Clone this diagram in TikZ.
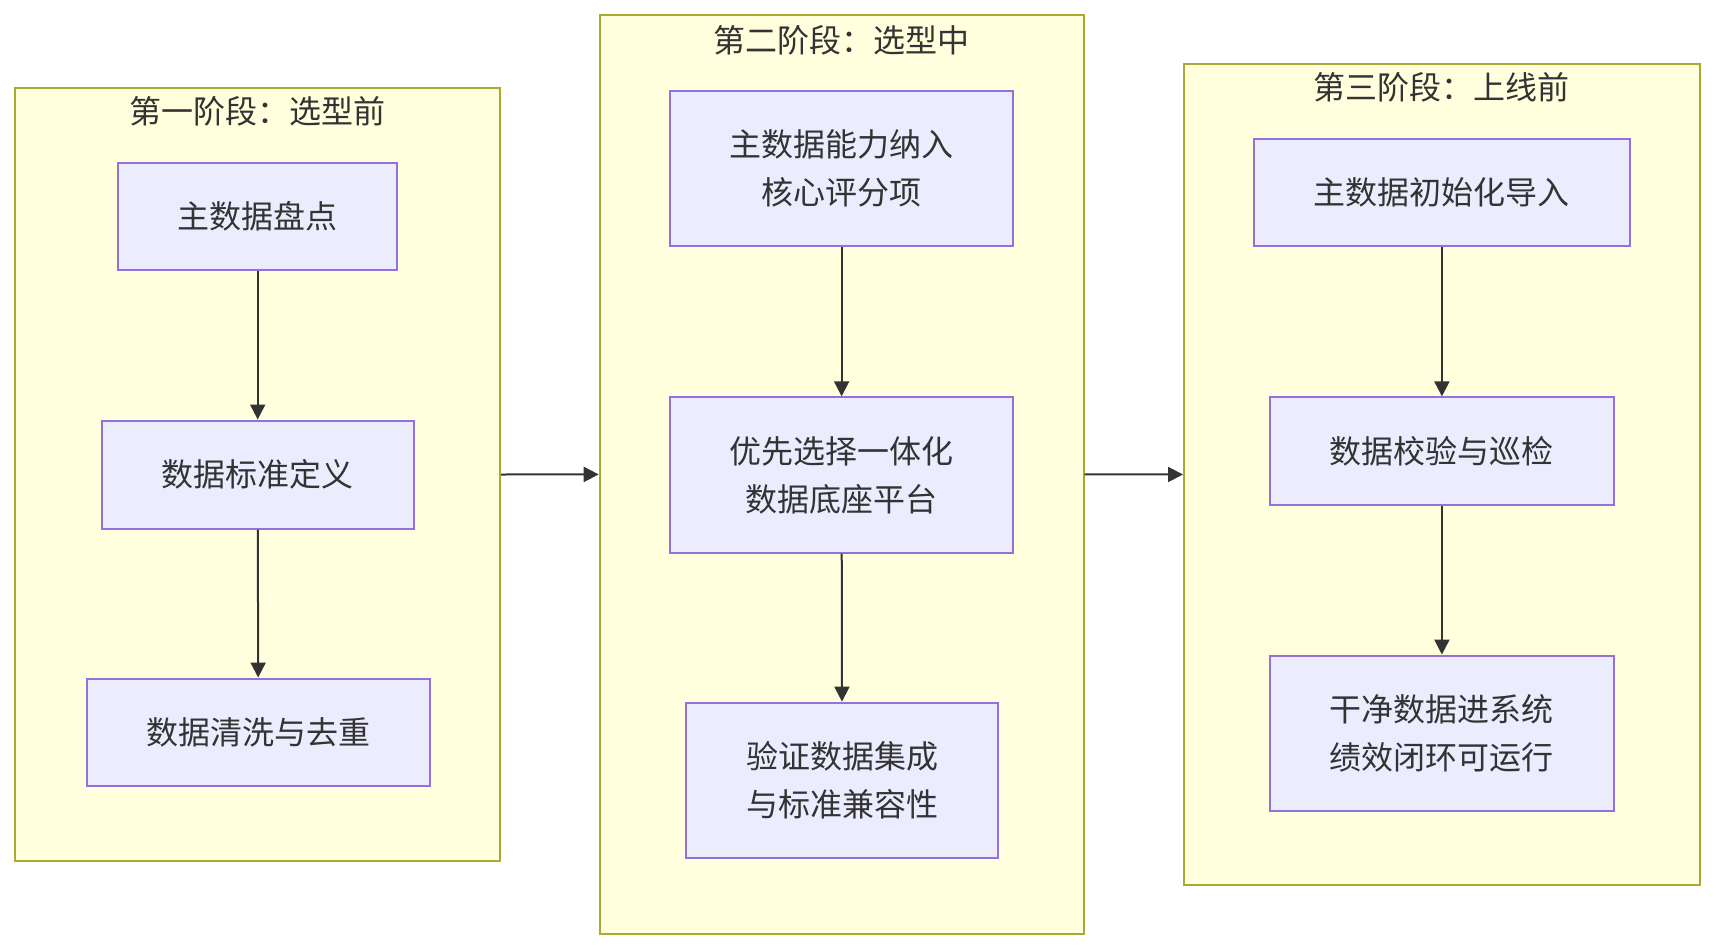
\documentclass[tikz,border=0pt]{standalone}
\usepackage{fontspec}
\setmainfont{Noto Sans CJK SC}
\usetikzlibrary{arrows.meta}
\definecolor{clfill}{HTML}{FFFFDE}
\definecolor{clline}{HTML}{AAAA33}
\definecolor{ndfill}{HTML}{ECECFF}
\definecolor{ndline}{HTML}{9370DB}
\definecolor{txt}{HTML}{333333}
\tikzset{
  cluster/.style={draw=clline, fill=clfill, line width=2pt, inner sep=0pt},
  stepbox/.style={draw=ndline, fill=ndfill, line width=2pt, inner sep=0pt, align=center,
    text=txt, font=\fontsize{32}{48}\selectfont},
  ttl/.style={text=txt, font=\fontsize{32}{48}\selectfont, inner sep=0pt},
  arr/.style={draw=txt, line width=2pt, -{Triangle[length=15pt,width=15pt]}},
}
\begin{document}
\begin{tikzpicture}[x=1pt,y=-1pt]
\useasboundingbox (0,0) rectangle (1716,950);
\fill[white] (0,0) rectangle (1716,950);
% clusters
\node[cluster, minimum width=484.8pt, minimum height=773.7pt] (K1) at (257.7,474.5) {};
\node[cluster, minimum width=483.8pt, minimum height=918.2pt] (K2) at (841.6,474.4) {};
\node[cluster, minimum width=515.6pt, minimum height=821.9pt] (K3) at (1441.8,474.5) {};
% titles
\node[ttl] (T1) at (257.7,111.6) {第一阶段：选型前};
\node[ttl] (T2) at (841.6,40.0) {第二阶段：选型中};
\node[ttl] (T3) at (1441.8,87.5) {第三阶段：上线前};
% stage 1
\node[stepbox, minimum width=279pt, minimum height=107pt] (B1) at (257.7,216.7) {主数据盘点};
\node[stepbox, minimum width=312pt, minimum height=108pt] (B2) at (257.7,474.5) {数据标准定义};
\node[stepbox, minimum width=343.6pt, minimum height=107.3pt] (B3) at (258.3,732.2) {数据清洗与去重};
% stage 2
\node[stepbox, minimum width=343.6pt, minimum height=155.4pt] (C1) at (841.6,168.5) {主数据能力纳入\\核心评分项};
\node[stepbox, minimum width=343.6pt, minimum height=155.4pt] (C2) at (841.6,475) {优先选择一体化\\数据底座平台};
\node[stepbox, minimum width=312pt, minimum height=155.4pt] (C3) at (842.1,780.3) {验证数据集成\\与标准兼容性};
% stage 3
\node[stepbox, minimum width=375.4pt, minimum height=107.2pt] (D1) at (1441.9,192.6) {主数据初始化导入};
\node[stepbox, minimum width=344.7pt, minimum height=107.2pt] (D2) at (1441.9,451) {数据校验与巡检};
\node[stepbox, minimum width=344.7pt, minimum height=155.5pt] (D3) at (1441.9,733.3) {干净数据进系统\\绩效闭环可运行};
% edges
\draw[arr] (B1) -- (B2);
\draw[arr] (B2) -- (B3);
\draw[arr] (C1) -- (C2);
\draw[arr] (C2) -- (C3);
\draw[arr] (D1) -- (D2);
\draw[arr] (D2) -- (D3);
\draw[arr] (K1.east) -- (K2.west);
\draw[arr] (K2.east) -- (K3.west);
\end{tikzpicture}
\end{document}
